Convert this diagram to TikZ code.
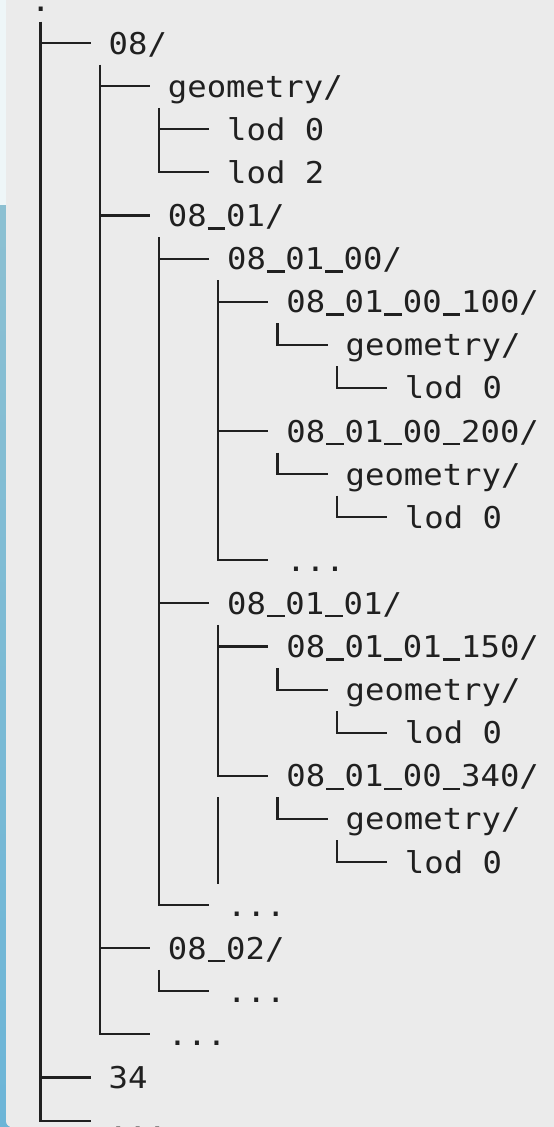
\documentclass[tikz,border=0pt]{standalone}
\usepackage{fontspec}
\newfontfamily\treefont[FakeStretch=1.075]{DejaVu Sans Mono}
\newcommand\us{\leavevmode\rlap{\kern0.03em\rule[-0.1em]{0.59em}{0.075em}}\phantom{0}}
\definecolor{panel}{HTML}{EBEBEB}
\definecolor{striplight}{HTML}{EEF6F8}
\definecolor{stripblue}{HTML}{8CC0D2}
\definecolor{stripdeep}{HTML}{6CB5D7}
\definecolor{ink}{HTML}{202020}
\tikzset{
  lbl/.style={anchor=west, inner sep=0pt, text height=26pt, text depth=4pt,
              font=\treefont\fontsize{30}{30}\selectfont, text=ink},
  br/.style={draw=ink, line width=2.1pt}
}
\begin{document}
\begin{tikzpicture}[x=1pt,y=-1pt]
\useasboundingbox (0,0) rectangle (554,1127);
% background
\fill[striplight] (0,0) rectangle (10,205);
\shade[top color=stripblue, bottom color=stripdeep] (0,205) rectangle (10,1127);
\fill[panel] (554,0) -- (6,0) [rounded corners=6pt] -- (6,1127) [sharp corners] -- (554,1127) -- cycle;

% labels
\node[lbl] (r) at (31,0) {.};
\node[lbl] (a) at (108.5,43.1) {08/};
\node[lbl] (a1) at (167.75,86.2) {geometry/};
\node[lbl] (a1a) at (227,129.3) {lod 0};
\node[lbl] (a1b) at (227,172.4) {lod 2};
\node[lbl] (a2) at (167.75,215.5) {08\us01/};
\node[lbl] (a2a) at (227,258.6) {08\us01\us00/};
\node[lbl] (a2a1) at (286.25,301.7) {08\us01\us00\us100/};
\node[lbl] (a2a1g) at (345.5,344.8) {geometry/};
\node[lbl] (a2a1gl) at (404.75,387.9) {lod 0};
\node[lbl] (a2a2) at (286.25,431) {08\us01\us00\us200/};
\node[lbl] (a2a2g) at (345.5,474.1) {geometry/};
\node[lbl] (a2a2gl) at (404.75,517.2) {lod 0};
\node[lbl] (a2a3) at (286.25,560.3) {...};
\node[lbl] (a2b) at (227,603.4) {08\us01\us01/};
\node[lbl] (a2b1) at (286.25,646.5) {08\us01\us01\us150/};
\node[lbl] (a2b1g) at (345.5,689.6) {geometry/};
\node[lbl] (a2b1gl) at (404.75,732.7) {lod 0};
\node[lbl] (a2b2) at (286.25,775.8) {08\us01\us00\us340/};
\node[lbl] (a2b2g) at (345.5,818.9) {geometry/};
\node[lbl] (a2b2gl) at (404.75,862) {lod 0};
\node[lbl] (a2c) at (227,905.1) {...};
\node[lbl] (a3) at (167.75,948.2) {08\us02/};
\node[lbl] (a3a) at (227,991.3) {...};
\node[lbl] (a4) at (167.75,1034.4) {...};
\node[lbl] (b) at (108.5,1077.5) {34};
\node[lbl] (c) at (108.5,1120.6) {...};

% tops of the vertical guide lines
\coordinate (tr) at (40.5,21.55);
\coordinate (ta) at (99.75,64.65);
\coordinate (ta1) at (159,107.75);
\coordinate (ta2) at (159,237.05);
\coordinate (ta2a) at (218.25,280.15);
\coordinate (ta2a1) at (277.5,323.25);
\coordinate (ta2a1g) at (336.75,366.35);
\coordinate (ta2a2) at (277.5,452.55);
\coordinate (ta2a2g) at (336.75,495.65);
\coordinate (ta2b) at (218.25,624.95);
\coordinate (ta2b1) at (277.5,668.05);
\coordinate (ta2b1g) at (336.75,711.15);
\coordinate (ta2b2) at (277.5,797.35);
\coordinate (ta2b2g) at (336.75,840.45);
\coordinate (ta3) at (159,969.75);
\coordinate (orphtop) at (218.25,797.35);
\coordinate (orphbot) at (218.25,883.65);

% root
\draw[br] (tr |- a.west) -- ([xshift=-18pt]a.west);
\draw[br] (tr |- b.west) -- ([xshift=-18pt]b.west);
\draw[br] (tr) |- ([xshift=-18pt]c.west);
% 08/
\draw[br] (ta |- a1.west) -- ([xshift=-18pt]a1.west);
\draw[br] (ta |- a2.west) -- ([xshift=-18pt]a2.west);
\draw[br] (ta |- a3.west) -- ([xshift=-18pt]a3.west);
\draw[br] (ta) |- ([xshift=-18pt]a4.west);
% geometry/
\draw[br] (ta1 |- a1a.west) -- ([xshift=-18pt]a1a.west);
\draw[br] (ta1) |- ([xshift=-18pt]a1b.west);
% 08_01/
\draw[br] (ta2 |- a2a.west) -- ([xshift=-18pt]a2a.west);
\draw[br] (ta2 |- a2b.west) -- ([xshift=-18pt]a2b.west);
\draw[br] (ta2) |- ([xshift=-18pt]a2c.west);
% 08_01_00/
\draw[br] (ta2a |- a2a1.west) -- ([xshift=-18pt]a2a1.west);
\draw[br] (ta2a |- a2a2.west) -- ([xshift=-18pt]a2a2.west);
\draw[br] (ta2a) |- ([xshift=-18pt]a2a3.west);
\draw[br] (ta2a1) |- ([xshift=-18pt]a2a1g.west);
\draw[br] (ta2a1g) |- ([xshift=-18pt]a2a1gl.west);
\draw[br] (ta2a2) |- ([xshift=-18pt]a2a2g.west);
\draw[br] (ta2a2g) |- ([xshift=-18pt]a2a2gl.west);
% 08_01_01/
\draw[br] (ta2b |- a2b1.west) -- ([xshift=-18pt]a2b1.west);
\draw[br] (ta2b) |- ([xshift=-18pt]a2b2.west);
\draw[br] (ta2b1) |- ([xshift=-18pt]a2b1g.west);
\draw[br] (ta2b1g) |- ([xshift=-18pt]a2b1gl.west);
\draw[br] (ta2b2) |- ([xshift=-18pt]a2b2g.west);
\draw[br] (ta2b2g) |- ([xshift=-18pt]a2b2gl.west);
\draw[br] (orphtop) -- (orphbot);
% 08_02/
\draw[br] (ta3) |- ([xshift=-18pt]a3a.west);
\end{tikzpicture}
\end{document}
